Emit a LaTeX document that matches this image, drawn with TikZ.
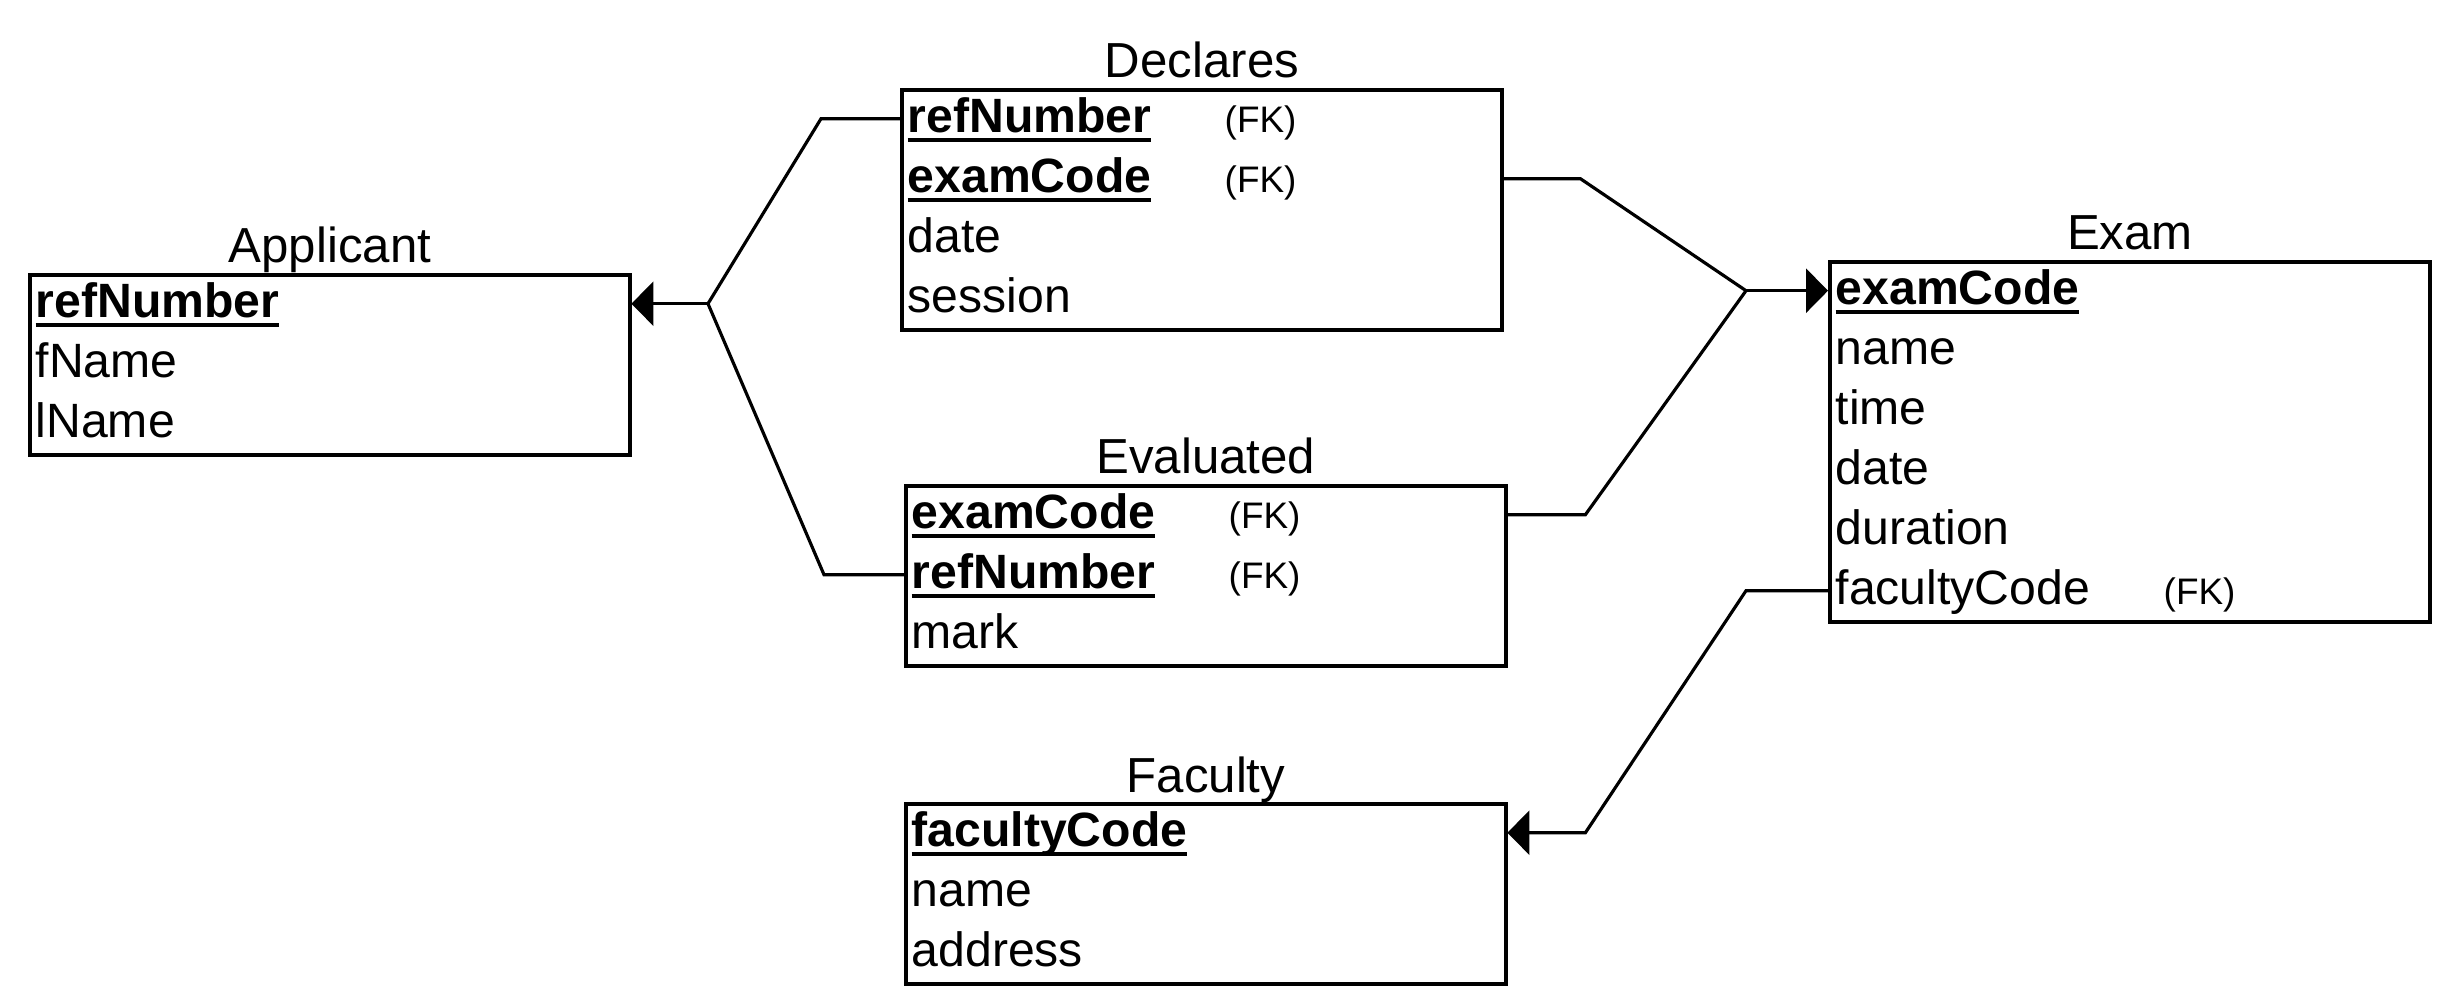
\documentclass[tikz,border=0pt]{standalone}
\usepackage{fontspec}
\setmainfont{Liberation Sans}
\usetikzlibrary{calc}
\usetikzlibrary{arrows.meta}

\newsavebox{\pkbox}
\newcommand{\pkey}[1]{\sbox\pkbox{\bfseries #1}\rlap{\rule[-0.09cm]{\wd\pkbox}{0.035cm}}\usebox\pkbox}

\begin{document}
\begin{tikzpicture}[
  table/.style={draw, line width=1.1pt, minimum width=6cm, inner sep=0pt, anchor=north west},
  row/.style={anchor=north west, minimum width=6cm, minimum height=0.6cm, text width=5.88cm,
    inner xsep=0.07cm, inner ysep=0pt, align=left, text height=0.38cm, text depth=0.1cm,
    font=\fontsize{13.7}{16}\selectfont},
  title/.style={anchor=base, inner sep=0pt, font=\fontsize{14}{16}\selectfont},
  fk/.style={anchor=base west, inner sep=0pt, font=\fontsize{10.5}{12}\selectfont},
  link/.style={line width=0.9pt},
  one/.style={-{Triangle[length=0.22cm,width=0.44cm]}}
]
\useasboundingbox (0,0) rectangle (24.56,-10.08);

%tabele
\node[table, minimum height=1.8cm] (app) at (0.28,-2.73) {};
\node[table, minimum height=2.4cm] (dec) at (9.0,-0.88) {};
\node[table, minimum height=1.8cm] (eva) at (9.04,-4.84) {};
\node[table, minimum height=1.8cm] (fac) at (9.04,-8.02) {};
\node[table, minimum height=3.6cm] (exa) at (18.28,-2.60) {};

%nazwy tabel
\node[title] (app-t) at ([yshift=0.1cm]app.north) {Applicant};
\node[title] (dec-t) at ([yshift=0.1cm]dec.north) {Declares};
\node[title] (eva-t) at ([yshift=0.1cm]eva.north) {Evaluated};
\node[title] (fac-t) at ([yshift=0.1cm]fac.north) {Faculty};
\node[title] (exa-t) at ([yshift=0.1cm]exa.north) {Exam};

%atrybuty
\foreach \a [count=\i] in {\pkey{refNumber},fName,lName}
  \node[row] (app-\i) at ($(app.north west)+(0,-0.6*\i+0.6)$) {\a};

\foreach \a [count=\i] in {\pkey{refNumber},\pkey{examCode},date,session}
  \node[row] (dec-\i) at ($(dec.north west)+(0,-0.6*\i+0.6)$) {\a};

\foreach \a [count=\i] in {\pkey{examCode},\pkey{refNumber},mark}
  \node[row] (eva-\i) at ($(eva.north west)+(0,-0.6*\i+0.6)$) {\a};

\foreach \a [count=\i] in {\pkey{facultyCode},name,address}
  \node[row] (fac-\i) at ($(fac.north west)+(0,-0.6*\i+0.6)$) {\a};

\foreach \a [count=\i] in {\pkey{examCode},name,time,date,duration,facultyCode}
  \node[row] (exa-\i) at ($(exa.north west)+(0,-0.6*\i+0.6)$) {\a};

%klucze obce
\node[fk] (dec-1k) at ([xshift=3.24cm]dec-1.base west) {(FK)};
\node[fk] (dec-2k) at ([xshift=3.24cm]dec-2.base west) {(FK)};
\node[fk] (eva-1k) at ([xshift=3.24cm]eva-1.base west) {(FK)};
\node[fk] (eva-2k) at ([xshift=3.24cm]eva-2.base west) {(FK)};
\node[fk] (exa-6k) at ([xshift=3.35cm]exa-6.base west) {(FK)};

%polaczenia
\coordinate (app-j) at (7.08,0 |- app-1.east);
\coordinate (exa-j) at (17.46,0 |- exa-1.west);

\draw[link] (dec-1.west) -- ++(-0.79,0) -- (app-j);
\draw[link] (eva-2.west) -- ++(-0.80,0) -- (app-j);
\draw[link,one] (app-j) -- (app-1.east);

\draw[link] (dec-2.east) -- ++(0.77,0) -- (exa-j);
\draw[link] (eva-1.east) -- ++(0.78,0) -- (exa-j);
\draw[link,one] (exa-j) -- (exa-1.west);

\draw[link,one] (exa-6.west) -- ++(-0.82,0) -- ($(fac-1.east)+(0.78,0)$) -- (fac-1.east);

\end{tikzpicture}
\end{document}
